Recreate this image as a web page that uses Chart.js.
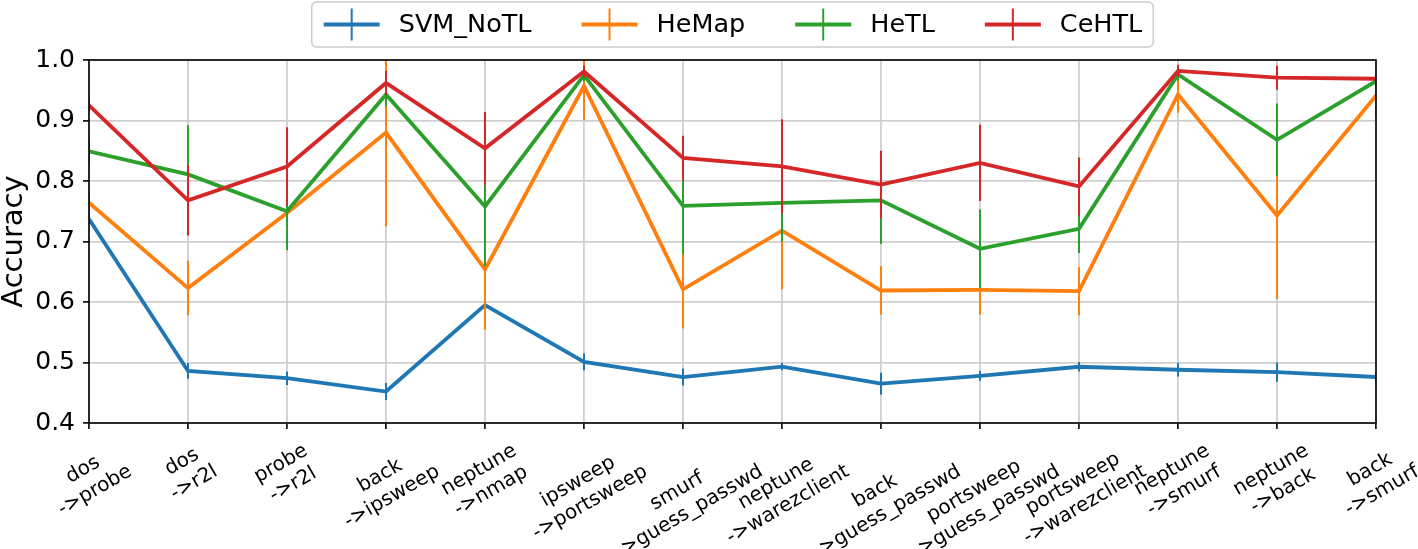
<!DOCTYPE html>
<html><head><meta charset="utf-8">
<script src="https://cdn.jsdelivr.net/npm/chart.js@4.4.1/dist/chart.umd.min.js"></script>
<style>html,body{margin:0;padding:0;background:#fff;} #wrap{width:1418px;height:549px;}</style>
</head><body><div id="wrap"><canvas id="c" width="1418" height="549"></canvas></div>
<script>
const categories = [["dos","->probe"],["dos","->r2l"],["probe","->r2l"],["back","->ipsweep"],["neptune","->nmap"],["ipsweep","->portsweep"],["smurf","->guess_passwd"],["neptune","->warezclient"],["back","->guess_passwd"],["portsweep","->guess_passwd"],["portsweep","->warezclient"],["neptune","->smurf"],["neptune","->back"],["back","->smurf"]];
const seriesNames = ["SVM_NoTL","HeMap","HeTL","CeHTL"];
const svmNoTL = [0.737,0.486,0.474,0.452,0.595,0.501,0.476,0.493,0.465,0.478,0.493,0.488,0.484,0.476];
const svmNoTLErr = [0.008,0.013,0.011,0.014,0.008,0.014,0.014,0.006,0.018,0.008,0.008,0.011,0.016,0.008];
const heMap = [0.764,0.623,0.747,0.880,0.654,0.957,0.621,0.718,0.619,0.620,0.618,0.943,0.743,0.941];
const heMapErr = [0.02,0.045,0.062,0.155,0.1,0.056,0.065,0.097,0.04,0.041,0.04,0.03,0.138,0.035];
const heTL = [0.849,0.811,0.750,0.943,0.758,0.975,0.759,0.764,0.768,0.688,0.721,0.976,0.868,0.965];
const heTLErr = [0.02,0.081,0.064,0.02,0.099,0.01,0.08,0.064,0.072,0.065,0.04,0.01,0.06,0.01];
const ceHTL = [0.925,0.768,0.824,0.962,0.854,0.981,0.838,0.824,0.794,0.830,0.791,0.982,0.971,0.969];
const ceHTLErr = [0.01,0.058,0.065,0.02,0.06,0.01,0.037,0.078,0.056,0.063,0.048,0.01,0.02,0.005];
const yTicks = [0.4,0.5,0.6,0.7,0.8,0.9,1.0];
const colors = ["#1f77b4","#ff7f0e","#2ca02c","#d62728"];

Chart.defaults.font.family = '"DejaVu Sans", sans-serif';
Chart.defaults.color = '#000';

const values = [svmNoTL, heMap, heTL, ceHTL];
const errors = [svmNoTLErr, heMapErr, heTLErr, ceHTLErr];

const errorBarPlugin = {
  id: 'errbars',
  afterDatasetDraw(chart, args) {
    const ds = chart.data.datasets[args.index];
    const errs = ds.errors;
    const ys = chart.scales.y, xs = chart.scales.x, ca = chart.chartArea, ctx = chart.ctx;
    ctx.save();
    ctx.beginPath(); ctx.rect(ca.left, ca.top, ca.right - ca.left, ca.bottom - ca.top); ctx.clip();
    ctx.strokeStyle = ds.borderColor; ctx.lineWidth = 2; ctx.lineCap = 'butt';
    ds.data.forEach((v, i) => {
      const x = xs.getPixelForValue(i);
      ctx.beginPath();
      ctx.moveTo(x, ys.getPixelForValue(v - errs[i]));
      ctx.lineTo(x, ys.getPixelForValue(v + errs[i]));
      ctx.stroke();
    });
    ctx.restore();
  }
};

const framePlugin = {
  id: 'frame',
  afterDatasetsDraw(chart) {
    const ca = chart.chartArea, ctx = chart.ctx;
    ctx.save(); ctx.strokeStyle = '#000'; ctx.lineWidth = 1.6;
    ctx.strokeRect(ca.left, ca.top, ca.right - ca.left, ca.bottom - ca.top);
    ctx.restore();
  }
};

const xLabelPlugin = {
  id: 'xlabels',
  afterDraw(chart) {
    const ctx = chart.ctx, xs = chart.scales.x, ca = chart.chartArea;
    const fs = 20, lh = fs * 1.2, ang = Math.PI / 6;
    ctx.save();
    ctx.font = fs + 'px "DejaVu Sans"'; ctx.fillStyle = '#000';
    ctx.textAlign = 'center'; ctx.textBaseline = 'middle';
    categories.forEach((lines, i) => {
      const x = xs.getPixelForValue(i);
      const w = Math.max(...lines.map(l => ctx.measureText(l).width));
      const h = lines.length * lh;
      const H = w * Math.sin(ang) + h * Math.cos(ang);
      ctx.save();
      ctx.translate(x, ca.bottom + 16 + H / 2);
      ctx.rotate(-ang);
      lines.forEach((l, j) => ctx.fillText(l, 0, (j - (lines.length - 1) / 2) * lh));
      ctx.restore();
    });
    ctx.restore();
  }
};

const legendPlugin = {
  id: 'boxlegend',
  afterDraw(chart) {
    const ctx = chart.ctx, ca = chart.chartArea;
    const fs = 25.5, handleW = 56, textPad = 19, colSp = 50, padL = 12, padR = 11;
    ctx.save();
    ctx.font = fs + 'px "DejaVu Sans"';
    const widths = seriesNames.map(n => ctx.measureText(n).width);
    const total = padL + padR + widths.reduce((a, w) => a + handleW + textPad + w, 0) + colSp * (seriesNames.length - 1);
    const cx = (ca.left + ca.right) / 2;
    const left = cx - total / 2, top = 2, height = 45, cy = top + height / 2;
    ctx.beginPath();
    ctx.roundRect(left, top, total, height, 5);
    ctx.fillStyle = 'rgba(255,255,255,0.8)'; ctx.fill();
    ctx.strokeStyle = '#cccccc'; ctx.lineWidth = 1.5; ctx.stroke();
    let x = left + padL;
    seriesNames.forEach((n, i) => {
      ctx.strokeStyle = colors[i];
      ctx.lineWidth = 3.8;
      ctx.beginPath(); ctx.moveTo(x, cy); ctx.lineTo(x + handleW, cy); ctx.stroke();
      ctx.lineWidth = 2;
      ctx.beginPath(); ctx.moveTo(x + handleW / 2, cy - 16); ctx.lineTo(x + handleW / 2, cy + 16); ctx.stroke();
      ctx.fillStyle = '#000'; ctx.textAlign = 'left'; ctx.textBaseline = 'middle';
      ctx.fillText(n, x + handleW + textPad, cy + 1);
      x += handleW + textPad + widths[i] + colSp;
    });
    ctx.restore();
  }
};

new Chart(document.getElementById('c'), {
  type: 'line',
  data: {
    labels: categories.map(c => c.join('')),
    datasets: seriesNames.map((name, i) => ({
      label: name,
      data: values[i],
      errors: errors[i],
      borderColor: colors[i],
      backgroundColor: colors[i],
      borderWidth: 3.8,
      pointRadius: 0,
      tension: 0,
      fill: false,
      clip: 0,
      order: seriesNames.length - 1 - i
    }))
  },
  options: {
    responsive: false,
    animation: false,
    devicePixelRatio: 1,
    layout: { padding: { top: 60, right: 42, bottom: 0, left: 0 } },
    plugins: { legend: { display: false }, tooltip: { enabled: false } },
    scales: {
      x: {
        type: 'category',
        offset: false,
        ticks: { display: false },
        grid: { color: '#cfcfcf', lineWidth: 1.8, tickColor: '#000', tickLength: 6, tickWidth: 1.6, drawTicks: true },
        border: { display: false },
        afterFit(scale) { scale.height = 126; }
      },
      y: {
        min: 0.4, max: 1.0,
        afterBuildTicks(scale) { scale.ticks = yTicks.map(v => ({ value: v })); },
        ticks: { font: { size: 25 }, color: '#000', padding: 8, callback: v => Number(v).toFixed(1) },
        grid: { color: '#cfcfcf', lineWidth: 1.8, tickColor: '#000', tickLength: 6, tickWidth: 1.6 },
        border: { display: false },
        title: { display: true, text: 'Accuracy', font: { size: 29, lineHeight: 1 }, color: '#000', padding: 0 },
        afterFit(scale) { scale.width = 89; }
      }
    }
  },
  plugins: [errorBarPlugin, framePlugin, xLabelPlugin, legendPlugin]
});
</script>
</body></html>
